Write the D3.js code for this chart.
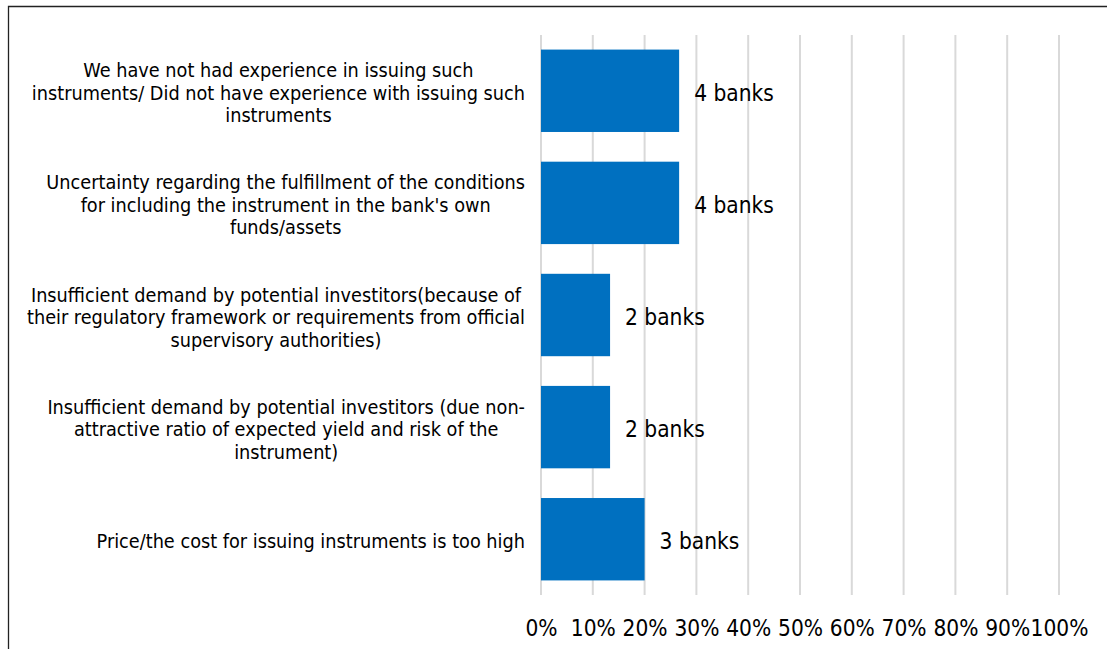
<!DOCTYPE html>
<html>
<head>
<meta charset="utf-8">
<script src="https://cdn.jsdelivr.net/npm/d3@7"></script>
<style>
  html, body { margin: 0; padding: 0; background: #fff; }
  svg text { font-family: "DejaVu Sans Condensed", "DejaVu Sans", sans-serif; fill: #000; }
</style>
</head>
<body>
<svg id="chart" width="1107" height="649"></svg>
<script>
// Reasons reported by banks (line breaks mark how each label wraps)
const categories = [
  "We have not had experience in issuing such\ninstruments/ Did not have experience with issuing such\ninstruments",
  "Uncertainty regarding the fulfillment of the conditions\nfor including the instrument in the bank's own\nfunds/assets",
  "Insufficient demand by potential investitors(because of\ntheir regulatory framework or requirements from official\nsupervisory authorities)",
  "Insufficient demand by potential investitors (due non-\nattractive ratio of expected yield and risk of the\ninstrument)",
  "Price/the cost for issuing instruments is too high"
];
// Number of banks citing each reason, out of all respondents
const bankCounts = [4, 4, 2, 2, 3];
const totalBanks = 15;
const valueLabels = bankCounts.map(n => n + " banks");
const tickValues = [0, 0.1, 0.2, 0.3, 0.4, 0.5, 0.6, 0.7, 0.8, 0.9, 1.0];

const svg = d3.select("#chart");
const plot = { left: 541, right: 1059, top: 35, bottom: 595 };
const labelFont = 19.7;
const valueFont = 22.5;
const tickFont = 22.5;

// Outer frame
svg.append("path")
  .attr("d", "M8.5,649 L8.5,6.5 L1107,6.5")
  .attr("fill", "none").attr("stroke", "#222").attr("stroke-width", 1.3);

const x = d3.scaleLinear().domain([0, 1]).range([plot.left, plot.right]);
const y = d3.scaleBand().domain(d3.range(categories.length))
  .range([plot.top, plot.bottom]).paddingInner(0.265).paddingOuter(0.13);

// Vertical gridlines
svg.append("g").selectAll("line").data(tickValues).join("line")
  .attr("x1", d => x(d)).attr("x2", d => x(d))
  .attr("y1", plot.top).attr("y2", plot.bottom)
  .attr("stroke", "#d9d9d9").attr("stroke-width", 2);

// Bars
svg.append("g").selectAll("rect").data(bankCounts).join("rect")
  .attr("x", x(0))
  .attr("y", (d, i) => y(i))
  .attr("width", d => x(d / totalBanks) - x(0))
  .attr("height", y.bandwidth())
  .attr("fill", "#0070c0");

// Value labels
svg.append("g").selectAll("text").data(bankCounts).join("text")
  .attr("x", d => x(d / totalBanks) + 15)
  .attr("y", (d, i) => y(i) + y.bandwidth() / 2 + 10)
  .attr("font-size", valueFont)
  .text((d, i) => valueLabels[i]);

// X axis tick labels
const xAxis = d3.axisBottom(x).tickValues(tickValues)
  .tickFormat(d3.format(".0%")).tickSize(0).tickPadding(0);
const ax = svg.append("g").attr("transform", `translate(0,${plot.bottom + 41})`).call(xAxis);
ax.select(".domain").remove();
ax.selectAll("text").attr("font-size", tickFont).attr("font-family", null).attr("dy", 0).attr("y", 0);

// Category labels: lines centred within a block right-aligned to the axis
const lineH = 22.5;
const rightEdge = 525;
const catG = svg.append("g");
categories.forEach((c, i) => {
  const lines = c.split("\n");
  const t = catG.append("text").attr("font-size", labelFont).attr("text-anchor", "middle");
  const base = y(i) + y.bandwidth() / 2 + 9;
  const y0 = base - (lines.length - 1) * lineH / 2;
  const spans = lines.map((ln, k) => t.append("tspan").attr("y", y0 + k * lineH).text(ln));
  const maxW = d3.max(spans, s => s.node().getComputedTextLength());
  const cx = rightEdge - maxW / 2;
  spans.forEach(s => s.attr("x", cx));
});
</script>
</body>
</html>
